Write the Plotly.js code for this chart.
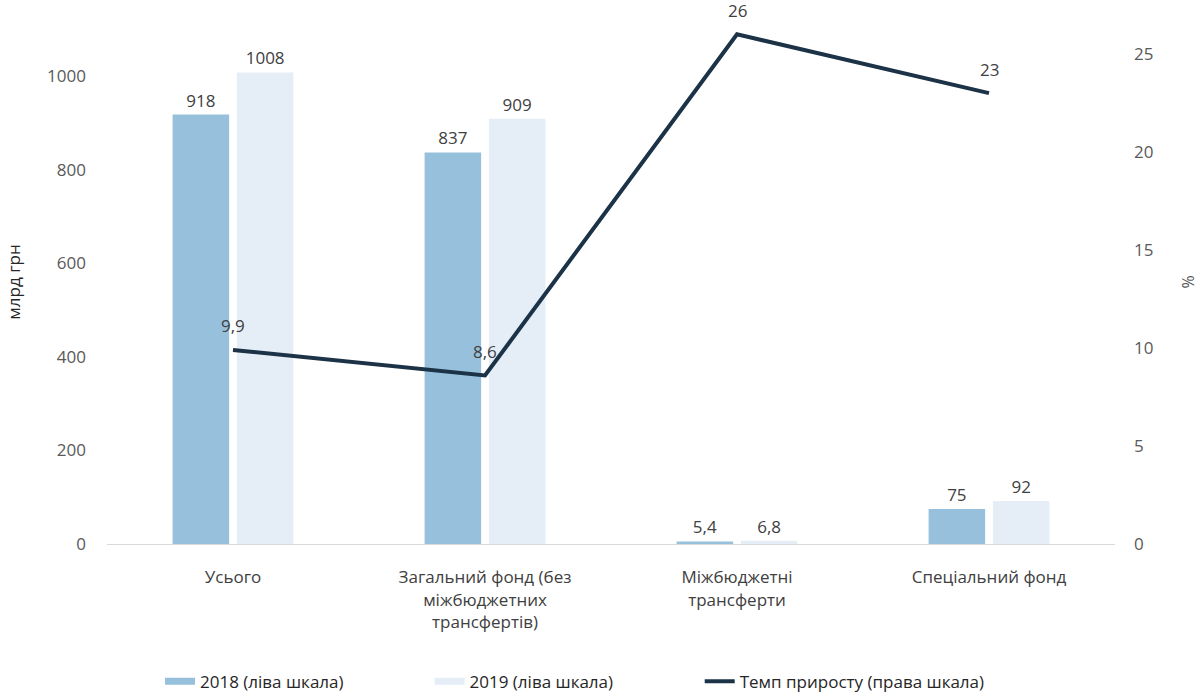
<!DOCTYPE html>
<html>
<head>
<meta charset="utf-8">
<script src="https://cdn.plot.ly/plotly-3.0.1.min.js"></script>
<style>html,body{margin:0;padding:0;background:#fff;}#chart{width:1204px;height:693px;}</style>
</head>
<body>
<div id="chart"></div>
<script>
const categories = ["Усього", "Загальний фонд (без<br>міжбюджетних<br>трансфертів)", "Міжбюджетні<br>трансферти", "Спеціальний фонд"];
const values2018 = [918, 837, 5.4, 75];
const values2019 = [1008, 909, 6.8, 92];
const growthRate = [9.9, 8.6, 26, 23];
const seriesNames = ["2018 (ліва шкала)", "2019 (ліва шкала)", "Темп приросту (права шкала)"];

const fmt = v => String(v).replace('.', ',');
const font = "Open Sans, Noto Sans, sans-serif";
const c2018 = '#97c0dc', c2019 = '#e5edf7', cLine = '#1b3247';

const traces = [
  {
    type: 'bar', name: seriesNames[0], x: categories, y: values2018, showlegend: false,
    marker: {color: c2018},
    text: values2018.map(fmt), textposition: 'outside', cliponaxis: false,
    textfont: {family: font, size: 17, color: '#404040'}
  },
  {
    type: 'bar', name: seriesNames[1], x: categories, y: values2019, showlegend: false,
    marker: {color: c2019},
    text: values2019.map(fmt), textposition: 'outside', cliponaxis: false,
    textfont: {family: font, size: 17, color: '#404040'}
  },
  {
    type: 'scatter', mode: 'lines', name: seriesNames[2], x: categories, y: growthRate,
    yaxis: 'y2', line: {color: cLine, width: 4}, showlegend: false
  },
  // legend entries (stripe swatches like the original)
  {type: 'scatter', mode: 'lines', name: seriesNames[0], x: [null], y: [null],
   line: {color: c2018, width: 7}, legend: 'legend'},
  {type: 'scatter', mode: 'lines', name: seriesNames[1], x: [null], y: [null],
   line: {color: c2019, width: 7}, legend: 'legend2'},
  {type: 'scatter', mode: 'lines', name: seriesNames[2], x: [null], y: [null],
   line: {color: cLine, width: 4}, legend: 'legend3'}
];

const lineLabels = categories.map((c, i) => ({
  x: c, y: growthRate[i], xref: 'x', yref: 'y2', text: fmt(growthRate[i]),
  showarrow: false, yshift: 24, font: {family: font, size: 17, color: '#404040'}
}));

const legendBase = {orientation: 'h', xanchor: 'left', y: -0.263, yanchor: 'middle',
                    font: {family: font, size: 17, color: '#262626'}, bgcolor: 'rgba(0,0,0,0)'};

const layout = {
  width: 1204, height: 693,
  margin: {l: 107, r: 89, t: 20, b: 149, autoexpand: false},
  paper_bgcolor: '#fff', plot_bgcolor: '#fff',
  font: {family: font, size: 17, color: '#404040'},
  barmode: 'group', bargap: 0.49, bargroupgap: 0.12,
  showlegend: true,
  legend: Object.assign({}, legendBase, {x: 0.0526}),
  legend2: Object.assign({}, legendBase, {x: 0.320}),
  legend3: Object.assign({}, legendBase, {x: 0.588}),
  annotations: lineLabels,
  xaxis: {
    type: 'category', showgrid: false, showline: true, linecolor: '#d9d9d9', linewidth: 1,
    ticks: '', tickfont: {family: font, size: 17, color: '#404040'}, ticklabelstandoff: 18,
    automargin: false
  },
  yaxis: {
    range: [0, 1120], tickvals: [0, 200, 400, 600, 800, 1000], showgrid: false, zeroline: false,
    ticks: '', tickfont: {family: font, size: 17, color: '#595959'}, ticklabelstandoff: 20,
    title: {text: 'млрд грн', font: {family: font, size: 17, color: '#262626'}, standoff: 22},
    automargin: false
  },
  yaxis2: {
    overlaying: 'y', side: 'right', range: [0, 26.73], tickvals: [0, 5, 10, 15, 20, 25],
    showgrid: false, zeroline: false, ticks: '', ticklabelstandoff: 18,
    tickfont: {family: font, size: 17, color: '#595959'},
    title: {text: '%', font: {family: font, size: 16, color: '#595959'}, standoff: 30},
    automargin: false
  }
};

Plotly.newPlot('chart', traces, layout, {displayModeBar: false, staticPlot: true});
</script>
</body>
</html>
